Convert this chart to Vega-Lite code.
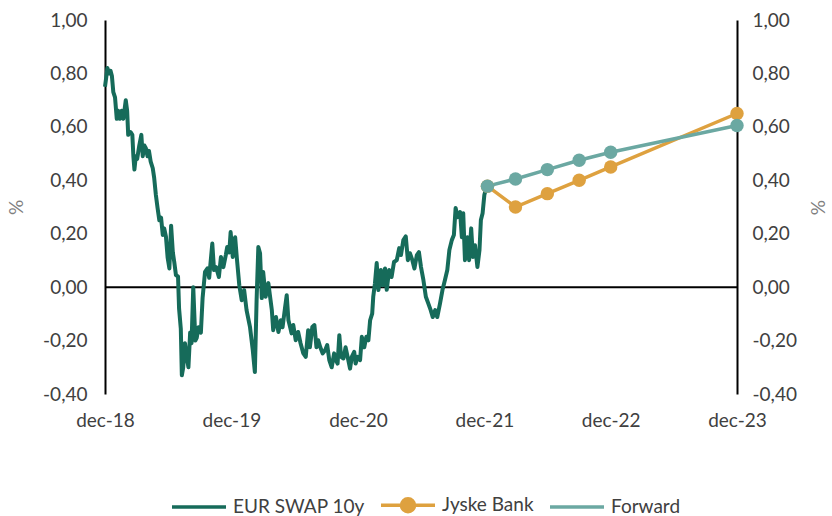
{
  "$schema": "https://vega.github.io/schema/vega-lite/v6.json",
  "width": 632,
  "height": 374,
  "autosize": {"type": "none"},
  "padding": {"left": 105, "top": 20, "right": 95, "bottom": 122},
  "background": "white",
  "config": {
    "view": {"stroke": null},
    "font": "Lato",
    "axis": {
      "grid": false,
      "ticks": false,
      "labelFont": "Lato",
      "labelFontSize": 19,
      "labelColor": "#404040",
      "titleFont": "Lato",
      "titleFontSize": 19,
      "titleFontWeight": "normal",
      "titleColor": "#7f7f7f"
    },
    "legend": {
      "title": null, "orient": "none", "legendX": 65, "legendY": 456, "direction": "horizontal",
      "padding": 0, "symbolSize": 2916, "symbolStrokeWidth": 3.5, "labelFont": "Lato", "labelFontSize": 19,
      "labelColor": "#404040", "labelOffset": 5, "columnPadding": 9
    }
  },
  "datasets": {
    "swap": [
      {"d": "2018-12-01", "v": 0.75}, {"d": "2018-12-04", "v": 0.78}, {"d": "2018-12-08", "v": 0.82}, {"d": "2018-12-13", "v": 0.80},
      {"d": "2018-12-17", "v": 0.81}, {"d": "2018-12-21", "v": 0.79}, {"d": "2018-12-25", "v": 0.73}, {"d": "2018-12-30", "v": 0.71},
      {"d": "2019-01-04", "v": 0.63}, {"d": "2019-01-08", "v": 0.66}, {"d": "2019-01-13", "v": 0.63}, {"d": "2019-01-18", "v": 0.66},
      {"d": "2019-01-23", "v": 0.63}, {"d": "2019-01-30", "v": 0.70}, {"d": "2019-02-03", "v": 0.66}, {"d": "2019-02-06", "v": 0.57},
      {"d": "2019-02-13", "v": 0.58}, {"d": "2019-02-18", "v": 0.57}, {"d": "2019-02-21", "v": 0.49}, {"d": "2019-02-24", "v": 0.44},
      {"d": "2019-02-28", "v": 0.49}, {"d": "2019-03-04", "v": 0.48}, {"d": "2019-03-10", "v": 0.53}, {"d": "2019-03-16", "v": 0.57},
      {"d": "2019-03-20", "v": 0.49}, {"d": "2019-03-25", "v": 0.53}, {"d": "2019-03-29", "v": 0.52}, {"d": "2019-04-03", "v": 0.49},
      {"d": "2019-04-07", "v": 0.51}, {"d": "2019-04-12", "v": 0.47}, {"d": "2019-04-18", "v": 0.445}, {"d": "2019-04-22", "v": 0.41},
      {"d": "2019-04-27", "v": 0.345}, {"d": "2019-05-02", "v": 0.295}, {"d": "2019-05-07", "v": 0.25}, {"d": "2019-05-12", "v": 0.26},
      {"d": "2019-05-17", "v": 0.195}, {"d": "2019-05-21", "v": 0.22}, {"d": "2019-05-26", "v": 0.19}, {"d": "2019-05-31", "v": 0.11},
      {"d": "2019-06-05", "v": 0.07}, {"d": "2019-06-10", "v": 0.23}, {"d": "2019-06-15", "v": 0.13}, {"d": "2019-06-19", "v": 0.095},
      {"d": "2019-06-24", "v": 0.045}, {"d": "2019-06-30", "v": 0.04}, {"d": "2019-07-03", "v": -0.08}, {"d": "2019-07-08", "v": -0.155},
      {"d": "2019-07-11", "v": -0.33}, {"d": "2019-07-15", "v": -0.30}, {"d": "2019-07-20", "v": -0.21}, {"d": "2019-07-25", "v": -0.26},
      {"d": "2019-07-30", "v": -0.30}, {"d": "2019-08-04", "v": -0.17}, {"d": "2019-08-08", "v": -0.21}, {"d": "2019-08-13", "v": 0.0},
      {"d": "2019-08-19", "v": -0.20}, {"d": "2019-08-23", "v": -0.19}, {"d": "2019-08-28", "v": -0.15}, {"d": "2019-09-04", "v": -0.17},
      {"d": "2019-09-09", "v": -0.04}, {"d": "2019-09-16", "v": 0.057}, {"d": "2019-09-23", "v": 0.07}, {"d": "2019-09-28", "v": 0.035},
      {"d": "2019-10-07", "v": 0.163}, {"d": "2019-10-12", "v": 0.064}, {"d": "2019-10-18", "v": 0.075}, {"d": "2019-10-26", "v": 0.038},
      {"d": "2019-11-01", "v": 0.113}, {"d": "2019-11-08", "v": 0.075}, {"d": "2019-11-15", "v": 0.12}, {"d": "2019-11-19", "v": 0.15},
      {"d": "2019-11-25", "v": 0.13}, {"d": "2019-11-29", "v": 0.206}, {"d": "2019-12-05", "v": 0.113}, {"d": "2019-12-12", "v": 0.187},
      {"d": "2019-12-17", "v": 0.108}, {"d": "2019-12-24", "v": 0.007}, {"d": "2019-12-31", "v": -0.049}, {"d": "2020-01-07", "v": -0.011},
      {"d": "2020-01-14", "v": -0.086}, {"d": "2020-01-24", "v": -0.15}, {"d": "2020-02-01", "v": -0.236}, {"d": "2020-02-07", "v": -0.318},
      {"d": "2020-02-12", "v": -0.049}, {"d": "2020-02-17", "v": 0.15}, {"d": "2020-02-22", "v": 0.127}, {"d": "2020-02-27", "v": -0.041},
      {"d": "2020-03-02", "v": 0.057}, {"d": "2020-03-09", "v": -0.036}, {"d": "2020-03-17", "v": 0.015}, {"d": "2020-03-22", "v": -0.036},
      {"d": "2020-03-27", "v": -0.086}, {"d": "2020-03-31", "v": -0.161}, {"d": "2020-04-08", "v": -0.112}, {"d": "2020-04-15", "v": -0.168},
      {"d": "2020-04-22", "v": -0.124}, {"d": "2020-04-27", "v": -0.15}, {"d": "2020-05-04", "v": -0.079}, {"d": "2020-05-09", "v": -0.03},
      {"d": "2020-05-14", "v": -0.124}, {"d": "2020-05-19", "v": -0.15}, {"d": "2020-05-23", "v": -0.173}, {"d": "2020-05-28", "v": -0.142},
      {"d": "2020-06-04", "v": -0.199}, {"d": "2020-06-11", "v": -0.168}, {"d": "2020-06-18", "v": -0.21}, {"d": "2020-06-26", "v": -0.248},
      {"d": "2020-07-03", "v": -0.261}, {"d": "2020-07-10", "v": -0.161}, {"d": "2020-07-15", "v": -0.225}, {"d": "2020-07-22", "v": -0.149},
      {"d": "2020-07-28", "v": -0.142}, {"d": "2020-08-03", "v": -0.225}, {"d": "2020-08-08", "v": -0.199}, {"d": "2020-08-14", "v": -0.225},
      {"d": "2020-08-21", "v": -0.248}, {"d": "2020-08-28", "v": -0.236}, {"d": "2020-09-03", "v": -0.217}, {"d": "2020-09-09", "v": -0.273},
      {"d": "2020-09-16", "v": -0.30}, {"d": "2020-09-23", "v": -0.248}, {"d": "2020-09-28", "v": -0.273}, {"d": "2020-10-03", "v": -0.286},
      {"d": "2020-10-08", "v": -0.18}, {"d": "2020-10-13", "v": -0.261}, {"d": "2020-10-20", "v": -0.267}, {"d": "2020-10-26", "v": -0.225},
      {"d": "2020-11-01", "v": -0.261}, {"d": "2020-11-08", "v": -0.305}, {"d": "2020-11-13", "v": -0.261}, {"d": "2020-11-20", "v": -0.242},
      {"d": "2020-11-24", "v": -0.286}, {"d": "2020-11-30", "v": -0.261}, {"d": "2020-12-07", "v": -0.273}, {"d": "2020-12-12", "v": -0.186},
      {"d": "2020-12-19", "v": -0.225}, {"d": "2020-12-25", "v": -0.186}, {"d": "2020-12-31", "v": -0.199}, {"d": "2021-01-05", "v": -0.124},
      {"d": "2021-01-11", "v": -0.099}, {"d": "2021-01-14", "v": -0.036}, {"d": "2021-01-19", "v": 0.015}, {"d": "2021-01-24", "v": 0.09},
      {"d": "2021-01-29", "v": -0.011}, {"d": "2021-02-05", "v": 0.064}, {"d": "2021-02-10", "v": 0.007}, {"d": "2021-02-17", "v": 0.07},
      {"d": "2021-02-22", "v": -0.01}, {"d": "2021-03-01", "v": 0.064}, {"d": "2021-03-08", "v": 0.038}, {"d": "2021-03-15", "v": 0.094},
      {"d": "2021-03-23", "v": 0.101}, {"d": "2021-03-30", "v": 0.146}, {"d": "2021-04-04", "v": 0.12}, {"d": "2021-04-11", "v": 0.176},
      {"d": "2021-04-18", "v": 0.19}, {"d": "2021-04-24", "v": 0.101}, {"d": "2021-04-30", "v": 0.127}, {"d": "2021-05-07", "v": 0.101},
      {"d": "2021-05-13", "v": 0.07}, {"d": "2021-05-20", "v": 0.12}, {"d": "2021-05-26", "v": 0.131}, {"d": "2021-06-01", "v": 0.075},
      {"d": "2021-06-08", "v": 0.026}, {"d": "2021-06-15", "v": -0.036}, {"d": "2021-06-22", "v": -0.061}, {"d": "2021-06-29", "v": -0.086},
      {"d": "2021-07-05", "v": -0.112}, {"d": "2021-07-12", "v": -0.086}, {"d": "2021-07-18", "v": -0.112}, {"d": "2021-07-26", "v": -0.061},
      {"d": "2021-08-02", "v": -0.011}, {"d": "2021-08-09", "v": 0.026}, {"d": "2021-08-16", "v": 0.064}, {"d": "2021-08-22", "v": 0.139},
      {"d": "2021-08-29", "v": 0.176}, {"d": "2021-09-04", "v": 0.195}, {"d": "2021-09-09", "v": 0.296}, {"d": "2021-09-15", "v": 0.262},
      {"d": "2021-09-22", "v": 0.281}, {"d": "2021-09-27", "v": 0.187}, {"d": "2021-10-01", "v": 0.277}, {"d": "2021-10-06", "v": 0.101},
      {"d": "2021-10-13", "v": 0.187}, {"d": "2021-10-18", "v": 0.101}, {"d": "2021-10-24", "v": 0.22}, {"d": "2021-10-29", "v": 0.113},
      {"d": "2021-11-04", "v": 0.157}, {"d": "2021-11-11", "v": 0.075}, {"d": "2021-11-17", "v": 0.139}, {"d": "2021-11-21", "v": 0.251},
      {"d": "2021-11-26", "v": 0.277}, {"d": "2021-12-01", "v": 0.345}, {"d": "2021-12-06", "v": 0.37}, {"d": "2021-12-10", "v": 0.378}
    ],
    "fc": [
      {"series": "Jyske Bank", "d": "2021-12-10", "v": 0.378},
      {"series": "Jyske Bank", "d": "2022-03-01", "v": 0.30},
      {"series": "Jyske Bank", "d": "2022-06-01", "v": 0.35},
      {"series": "Jyske Bank", "d": "2022-09-01", "v": 0.40},
      {"series": "Jyske Bank", "d": "2022-12-01", "v": 0.45},
      {"series": "Jyske Bank", "d": "2023-12-01", "v": 0.65},
      {"series": "Forward", "d": "2021-12-10", "v": 0.378},
      {"series": "Forward", "d": "2022-03-01", "v": 0.405},
      {"series": "Forward", "d": "2022-06-01", "v": 0.44},
      {"series": "Forward", "d": "2022-09-01", "v": 0.475},
      {"series": "Forward", "d": "2022-12-01", "v": 0.505},
      {"series": "Forward", "d": "2023-12-01", "v": 0.605}
    ],
    "zero": [{"y0": 0}]
  },
  "layer": [
    {
      "data": {"name": "zero"},
      "mark": {"type": "rule", "color": "#000000", "strokeWidth": 2},
      "encoding": {
        "y": {"field": "y0", "type": "quantitative", "axis": null}
      }
    },
    {
      "data": {"name": "swap"},
      "mark": {"type": "line", "strokeWidth": 4, "strokeJoin": "round"},
      "encoding": {
        "x": {
          "field": "d", "type": "temporal",
          "scale": {"type": "utc", "domain": [{"year": 2018, "month": 12, "date": 1, "utc": true}, {"year": 2023, "month": 12, "date": 1, "utc": true}]},
          "axis": {
            "title": null, "domain": false, "ticks": false, "labelPadding": 17, "labelFlush": false, "labelOverlap": false,
            "values": [
              {"year": 2018, "month": 12, "date": 1, "utc": true},
              {"year": 2019, "month": 12, "date": 1, "utc": true},
              {"year": 2020, "month": 12, "date": 1, "utc": true},
              {"year": 2021, "month": 12, "date": 1, "utc": true},
              {"year": 2022, "month": 12, "date": 1, "utc": true},
              {"year": 2023, "month": 12, "date": 1, "utc": true}
            ],
            "labelExpr": "lower(utcFormat(datum.value, '%b-%y'))"
          }
        },
        "y": {
          "field": "v", "type": "quantitative",
          "scale": {"domain": [-0.4, 1.0], "nice": false, "zero": false},
          "axis": {
            "orient": "left", "title": "%", "domainColor": "#000000", "domainWidth": 2,
            "labelPadding": 18, "titlePadding": 16,
            "values": [-0.4, -0.2, 0, 0.2, 0.4, 0.6, 0.8, 1.0],
            "labelExpr": "replace(replace(format(datum.value, '.2f'), '.', ','), '\u2212', '-')"
          }
        },
        "color": {
          "datum": "EUR SWAP 10y",
          "scale": {"domain": ["EUR SWAP 10y", "Jyske Bank", "Forward"], "range": ["#166b5a", "#dea13f", "#6ba8a2"]},
          "legend": {
            "title": null, "orient": "none", "legendX": 65, "legendY": 456, "direction": "horizontal",
            "encode": {
              "symbols": {
                "update": {
                  "shape": {"signal": "datum.value === 'Jyske Bank' ? 'M-1,0L1,0M0.24,0A0.24,0.24,0,1,1,-0.24,0A0.24,0.24,0,1,1,0.24,0Z' : 'M-1,0L1,0'"},
                  "fill": {"scale": "color", "field": "value"},
                  "stroke": {"scale": "color", "field": "value"},
                  "strokeWidth": {"value": 3.5},
                  "opacity": {"value": 1}
                }
              }
            }
          }
        }
      }
    },
    {
      "data": {"name": "fc"},
      "mark": {"type": "line", "strokeWidth": 3.5, "point": {"filled": true, "size": 180, "opacity": 1}},
      "encoding": {
        "x": {"field": "d", "type": "temporal"},
        "y": {
          "field": "v", "type": "quantitative",
          "axis": {
            "orient": "right", "title": "%", "domainColor": "#000000", "domainWidth": 2,
            "labelPadding": 15, "titlePadding": 10,
            "values": [-0.4, -0.2, 0, 0.2, 0.4, 0.6, 0.8, 1.0],
            "labelExpr": "replace(replace(format(datum.value, '.2f'), '.', ','), '\u2212', '-')"
          }
        },
        "color": {
          "field": "series", "type": "nominal",
          "legend": {
            "title": null, "orient": "none", "legendX": 65, "legendY": 456, "direction": "horizontal",
            "encode": {
              "symbols": {
                "update": {
                  "shape": {"signal": "datum.value === 'Jyske Bank' ? 'M-1,0L1,0M0.24,0A0.24,0.24,0,1,1,-0.24,0A0.24,0.24,0,1,1,0.24,0Z' : 'M-1,0L1,0'"},
                  "fill": {"scale": "color", "field": "value"},
                  "stroke": {"scale": "color", "field": "value"},
                  "strokeWidth": {"value": 3.5},
                  "opacity": {"value": 1}
                }
              }
            }
          }
        }
      }
    }
  ],
  "resolve": {"axis": {"y": "independent"}}
}
